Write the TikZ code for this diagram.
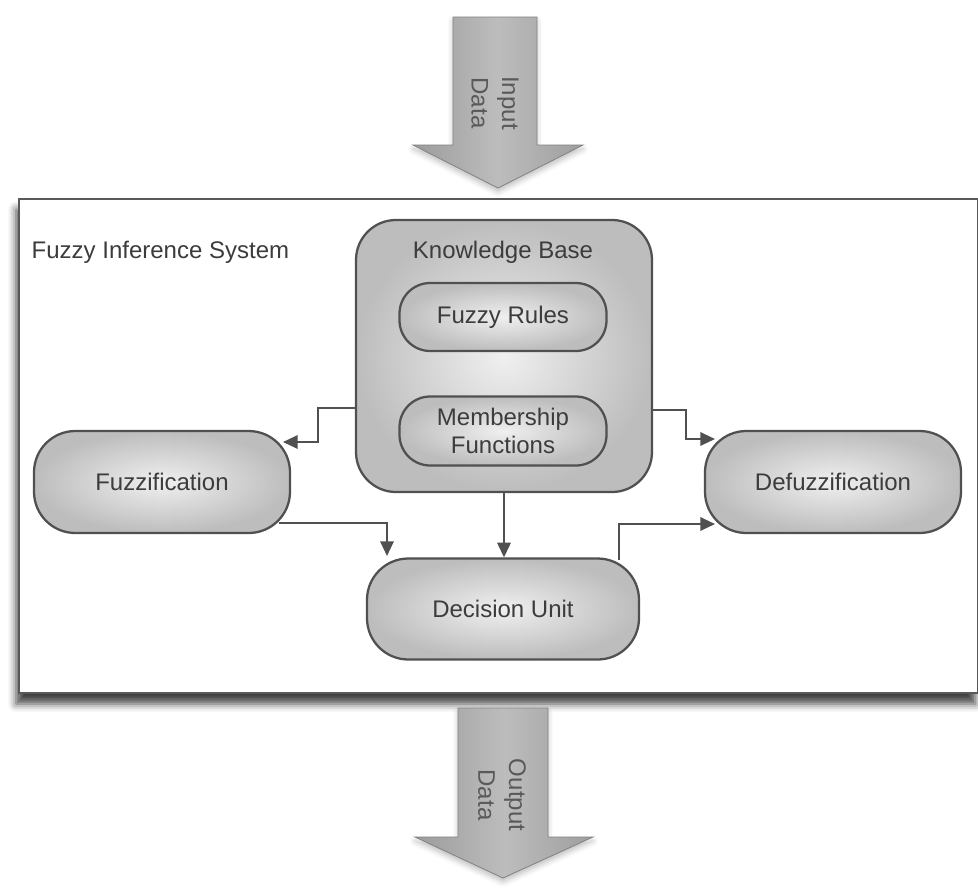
\documentclass[tikz,border=0pt]{standalone}
\usepackage{fontspec}
\setmainfont{Liberation Sans}
\usetikzlibrary{shapes.misc,arrows.meta,shadows.blur,calc}
\definecolor{txt}{HTML}{3C3C3C}
\definecolor{edgec}{HTML}{505050}
\begin{document}
\begin{tikzpicture}[x=0.75pt,y=-0.75pt,
  every node/.style={text=txt},
  lbl/.style={font=\fontsize{18}{21}\selectfont},
  box/.style={draw=edgec, line width=1.7pt, inner color=gray!12, outer color=gray!52,
    align=center, font=\fontsize{18}{21}\selectfont},
  stad/.style={box, rectangle, rounded corners=23pt},
  wide/.style={box, rectangle, rounded corners=31pt},
  conn/.style={draw=edgec, line width=1.6pt, -{Triangle[length=11pt,width=10pt]}},
  bigarrow/.style={draw=gray!60!black!70, line width=0.6pt, left color=gray!78, right color=gray!76, middle color=gray!52,
    blur shadow={shadow xshift=0pt, shadow yshift=-3pt, shadow blur radius=4pt, shadow opacity=25}},
  arrowtxt/.style={rotate=-90, align=center, font=\fontsize{18}{23}\selectfont, text=black!65}
]
\useasboundingbox (0,0) rectangle (978,890);

% input arrow
\path[bigarrow] (453,17) -- (537,17) -- (537,145) -- (583,145) -- (498,188) -- (413,145) -- (453,145) -- cycle;
\node[arrowtxt] (inp) at (495,103) {Input\\Data};

% main box
\node[draw=gray!70!black, line width=2.2pt, fill=white, minimum width=959*0.75pt, minimum height=494*0.75pt,
  blur shadow={shadow xshift=-2pt, shadow yshift=-8pt, shadow blur radius=6pt, shadow opacity=75}] (fis) at (498.5,446) {};
\node[lbl, anchor=west] (fist) at (27,252) {Fuzzy Inference System};

% output arrow
\path[bigarrow] (458,708) -- (548,708) -- (548,837) -- (593,837) -- (503,878) -- (415,837) -- (458,837) -- cycle;
\node[arrowtxt] (outp) at (502,795) {Output\\Data};

% knowledge base
\node[box, rounded corners=30pt, minimum width=296*0.75pt, minimum height=272*0.75pt] (kb) at (504,356) {};
\node[lbl] (kbt) at (503,252) {Knowledge Base};
\node[stad, minimum width=207*0.75pt, minimum height=68*0.75pt] (rules) at (503,317) {Fuzzy Rules};
\node[stad, minimum width=207*0.75pt, minimum height=69*0.75pt, inner sep=1pt] (mf) at (503,431) {Membership\\[0pt]Functions};

% side units
\node[wide, minimum width=256*0.75pt, minimum height=102*0.75pt] (fuzz) at (162,482) {Fuzzification};
\node[wide, minimum width=256*0.75pt, minimum height=102*0.75pt] (defuzz) at (833,482) {Defuzzification};
\node[wide, minimum width=272*0.75pt, minimum height=101*0.75pt] (dec) at (503,609) {Decision Unit};

% connectors
\coordinate (fzin) at (283,442);
\coordinate (dfin1) at (715,439);
\coordinate (dfin2) at (715,524);
\coordinate (dcin) at (387,556);
\draw[conn] (kb.west |- 0,408) -| (318,442) -- (fzin);
\draw[conn] (kb.east |- 0,410) -| (686,439) -- (dfin1);
\draw[conn] (fuzz.east |- 0,523) ++(-12,0) -| (dcin);
\draw[conn] (kb.south) -- (kb.south |- dec.north);
\draw[conn] (619,560) |- (dfin2);
\end{tikzpicture}
\end{document}
